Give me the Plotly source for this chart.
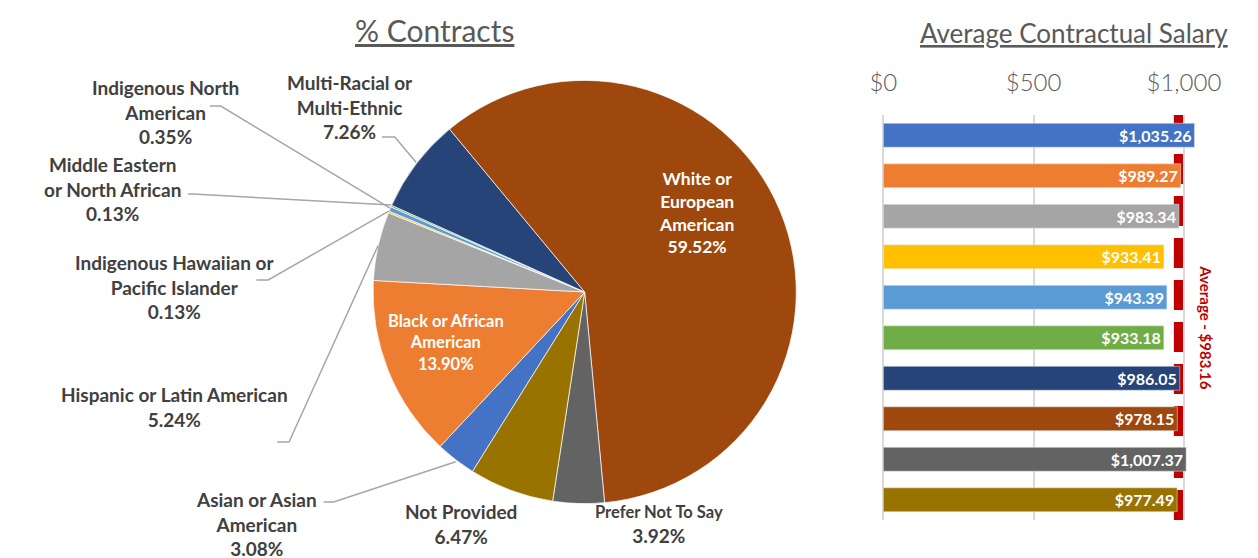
import math
import plotly.graph_objects as go

W, H = 1258, 558
OFF = 8  # page body margin seen in the browser

# data
categories = [
    "Asian or Asian American",
    "Black or African American",
    "Hispanic or Latin American",
    "Indigenous Hawaiian or Pacific Islander",
    "Indigenous North American",
    "Middle Eastern or North African",
    "Multi-Racial or Multi-Ethnic",
    "White or European American",
    "Prefer Not To Say",
    "Not Provided",
]
contract_pct = [3.08, 13.90, 5.24, 0.13, 0.35, 0.13, 7.26, 59.52, 3.92, 6.47]
avg_salary = [1035.26, 989.27, 983.34, 933.41, 943.39, 933.18, 986.05, 978.15, 1007.37, 977.49]
overall_avg = 983.16
salary_ticks = [0, 500, 1000]
salary_ticktext = ["$0", "$500", "$1,000"]

# label text as shown on the chart (line breaks)
label_lines = {
    "Asian or Asian American": "Asian or Asian<br>American",
    "Black or African American": "Black or African<br>American",
    "Hispanic or Latin American": "Hispanic or Latin American",
    "Indigenous Hawaiian or Pacific Islander": "Indigenous Hawaiian or<br>Pacific Islander",
    "Indigenous North American": "Indigenous North<br>American",
    "Middle Eastern or North African": "Middle Eastern<br>or North African",
    "Multi-Racial or Multi-Ethnic": "Multi-Racial or<br>Multi-Ethnic",
    "White or European American": "White or<br>European<br>American",
    "Prefer Not To Say": "<span style='font-size:16.5px'>Prefer Not To Say</span>",
    "Not Provided": "Not Provided",
}

colors = ["#4472C4", "#ED7D31", "#A5A5A5", "#FFC000", "#5B9BD5",
          "#70AD47", "#264478", "#9E480E", "#636363", "#997300"]

FONT = "Lato"
DARK = "#404040"
GREY = "#595959"


def px(x):
    return (x - OFF) / W


def py(y):
    return 1 - (y - OFF) / H


# pie geometry (pixels)
cx, cy, r = 577, 292, 214
rotation = 212

# label placement: (x center, y center, font color, size, leader [x0, x1, y] or None)
label_pos = {
    "Multi-Racial or Multi-Ethnic": (340, 107, DARK, 19, (372, 385, 137)),
    "Indigenous North American": (153, 112, DARK, 19, (198, 209, 106)),
    "Middle Eastern or North African": (100, 189, DARK, 19, (176, 181, 194)),
    "Indigenous Hawaiian or Pacific Islander": (162, 287, DARK, 19, (245, 257, 280)),
    "Hispanic or Latin American": (162, 407, DARK, 19, (266, 278, 442)),
    "Asian or Asian American": (245, 524, DARK, 19, (313, 323, 502)),
    "Not Provided": (452, 524, DARK, 19, None),
    "Prefer Not To Say": (652, 524, DARK, 19, None),
    "White or European American": (690, 213, "white", 17.5, None),
    "Black or African American": (437, 342, "white", 16.5, None),
}

fig = go.Figure()

fig.add_trace(go.Pie(
    labels=categories,
    values=contract_pct,
    sort=False,
    direction="clockwise",
    rotation=rotation - 360,
    marker=dict(colors=colors, line=dict(color="white", width=0.7)),
    textinfo="none",
    hoverinfo="label+percent",
    showlegend=False,
    domain=dict(x=[px(cx - r), px(cx + r)], y=[py(cy + r), py(cy - r)]),
))

fig.add_trace(go.Bar(
    x=avg_salary,
    y=categories,
    orientation="h",
    marker=dict(color=colors),
    width=0.59,
    texttemplate="$%{x:,.2f}",
    textposition="inside",
    insidetextanchor="end",
    textangle=0,
    constraintext="none",
    textfont=dict(family=FONT, size=16, color="white", weight="bold"),
    showlegend=False,
    xaxis="x",
    yaxis="y",
))

annotations = []
shapes = []

# slice labels + leader lines
cum = 0.0
total = sum(contract_pct)
for cat, pct in zip(categories, contract_pct):
    mid = rotation + (cum + pct / 2) / total * 360
    cum += pct
    x, y, col, size, leader = label_pos[cat]
    text = "<b>%s<br>%.2f%%</b>" % (label_lines[cat], pct)
    annotations.append(dict(
        x=px(x), y=py(y), xref="paper", yref="paper",
        text=text, showarrow=False, align="center",
        xanchor="center", yanchor="middle",
        font=dict(family=FONT, size=size, color=col),
    ))
    if leader:
        a = math.radians(mid)
        ex = cx + r * math.sin(a)
        ey = cy - r * math.cos(a)
        x0, x1, ly = leader
        path = "M %f,%f L %f,%f L %f,%f" % (px(x0), py(ly), px(x1), py(ly), px(ex), py(ey))
        shapes.append(dict(type="path", path=path, xref="paper", yref="paper",
                           line=dict(color="#A6A6A6", width=1.5)))

# titles
annotations.append(dict(
    x=px(425), y=py(30), xref="paper", yref="paper",
    text="<u>% Contracts</u>", showarrow=False,
    xanchor="center", yanchor="middle",
    font=dict(family=FONT, size=30, color=GREY),
))
annotations.append(dict(
    x=px(1072), y=py(33), xref="paper", yref="paper",
    text="<u>Average Contractual Salary</u>", showarrow=False,
    xanchor="center", yanchor="middle",
    font=dict(family=FONT, size=26, color=GREY),
))

# average marker
bar_y0, bar_y1 = py(520), py(115)
shapes.append(dict(
    type="line", xref="x", yref="paper",
    x0=overall_avg, x1=overall_avg, y0=bar_y0, y1=bar_y1,
    line=dict(color="#C00000", width=10, dash="30px,12px"),
    layer="between",
))
annotations.append(dict(
    x=px(1205), y=py(327), xref="paper", yref="paper",
    text="<b>Average - $%.2f</b>" % overall_avg, showarrow=False,
    textangle=90, xanchor="center", yanchor="middle",
    font=dict(family=FONT, size=15, color="#C00000"),
))

x_left = 879
px_per_unit = 0.304
x_max = 1150

fig.update_layout(
    width=W, height=H,
    margin=dict(l=0, r=0, t=0, b=0),
    paper_bgcolor="white",
    plot_bgcolor="white",
    font=dict(family=FONT),
    xaxis=dict(
        domain=[px(x_left), px(x_left + x_max * px_per_unit)],
        range=[0, x_max],
        side="top",
        tickvals=salary_ticks,
        ticktext=salary_ticktext,
        tickfont=dict(family=FONT, size=24, color=GREY, weight=300),
        ticklabelstandoff=18,
        showgrid=True, gridcolor="#D9D9D9", gridwidth=2,
        zeroline=True, zerolinecolor="#D9D9D9", zerolinewidth=2,
        showline=False, fixedrange=True,
        anchor="y",
    ),
    yaxis=dict(
        domain=[bar_y0, bar_y1],
        categoryorder="array",
        categoryarray=categories,
        autorange="reversed",
        showticklabels=False,
        showgrid=False, zeroline=False, showline=False,
        anchor="x",
    ),
    bargap=0.41,
    annotations=annotations,
    shapes=shapes,
)

fig.write_html("out.html")
